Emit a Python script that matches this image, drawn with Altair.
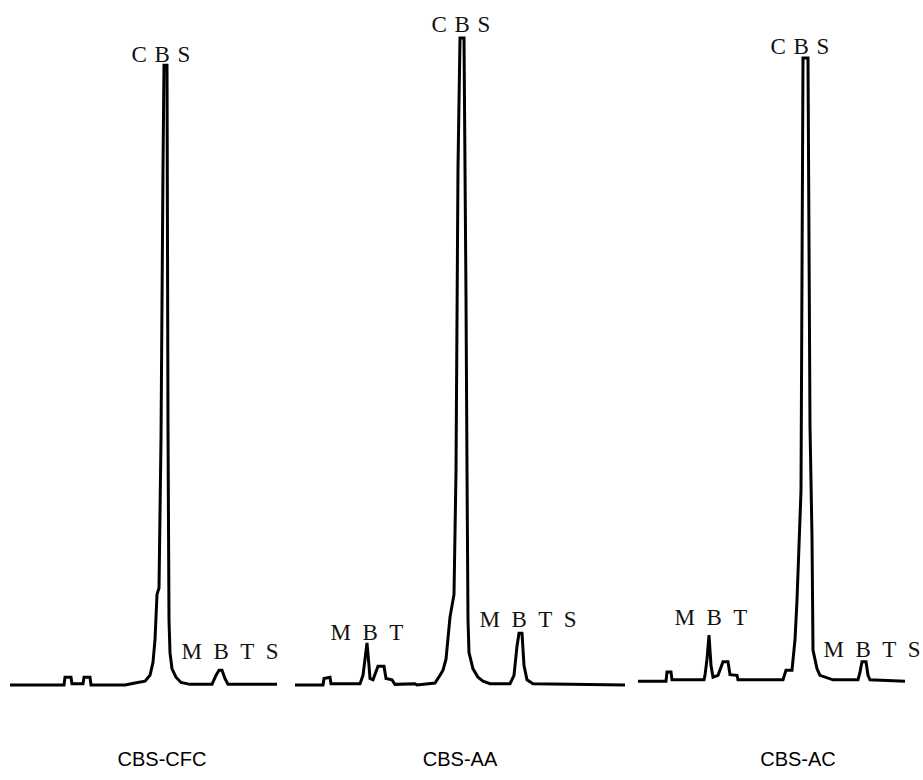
import altair as alt
import pandas as pd

# ---- chromatogram traces (retention time, relative intensity) ----
cfc_time = [1.0, 6.4, 6.5, 7.1, 7.2, 8.3, 8.4, 9.0, 9.1, 12.5, 13.5, 14.5, 15.0, 15.3, 15.5, 15.7,
            15.9, 16.1, 16.3, 16.4, 16.7, 16.8, 16.9, 17.0, 17.2, 17.6, 18.1, 19.0, 21.2, 21.6,
            21.9, 22.2, 22.5, 22.8, 27.7]
cfc_sig = [0, 0, 1.2, 1.2, 0.2, 0.2, 1.2, 1.2, 0, 0, 0.3, 0.6, 1.5, 3.5, 7.0, 14.0,
           15.0, 38.0, 80.0, 95.8, 95.8, 40.0, 10.0, 5.0, 2.5, 1.2, 0.4, 0.1, 0.1, 1.5,
           2.3, 2.3, 1.0, 0.1, 0.1]

aa_time = [0.5, 3.3, 3.4, 4.0, 4.1, 7.0, 7.3, 7.5, 7.7, 7.9, 8.0, 8.3, 8.8, 9.4, 9.6, 10.2,
           10.5, 12.5, 12.7, 14.5, 15.0, 15.3, 15.6, 16.0, 16.4, 16.6, 16.8, 17.0, 17.4, 17.6,
           17.7, 17.8, 17.9, 18.3, 18.8, 19.3, 20.0, 22.0, 22.4, 22.7, 22.9, 23.2, 23.4, 23.7,
           24.3, 33.5]
aa_sig = [0, 0, 1.0, 1.2, 0.2, 0.2, 1.5, 4.0, 6.5, 3.0, 1.0, 0.8, 2.9, 2.9, 1.0, 0.8,
          0.1, 0.2, 0, 0.3, 1.5, 2.3, 4.0, 10.5, 14.0, 33.0, 80.0, 100.0, 100.0, 60.0,
          33.0, 10.0, 5.0, 2.5, 1.2, 0.6, 0.2, 0.2, 1.5, 6.0, 8.0, 8.0, 3.0, 0.8,
          0.2, 0]

ac_time = [0.8, 3.6, 3.7, 4.1, 4.2, 7.4, 7.5, 7.7, 7.9, 8.1, 8.3, 8.8, 9.3, 9.8, 10.0, 10.7,
           10.8, 15.3, 15.6, 16.2, 16.5, 16.7, 17.1, 17.3, 17.8, 18.0, 18.2, 18.3, 18.7, 19.0,
           20.3, 22.8, 23.0, 23.2, 23.6, 23.8, 24.0, 27.5]
ac_sig = [0.6, 0.6, 2.0, 2.0, 0.8, 0.8, 1.5, 4.0, 7.7, 3.0, 1.2, 1.5, 3.6, 3.6, 1.6, 1.5,
          0.8, 0.8, 2.3, 2.3, 7.0, 13.1, 30.0, 96.9, 96.9, 40.0, 22.9, 5.4, 2.5, 1.5,
          0.8, 0.8, 2.0, 3.6, 3.6, 1.5, 0.8, 0.6]

# ---- peak labels ----
cfc_lab = ["CBS", "MBTS"]
cfc_lab_t = [16.1, 23.0]
cfc_lab_s = [97.4, 5.1]

aa_lab = ["CBS", "MBT", "MBTS"]
aa_lab_t = [17.1, 7.7, 23.8]
aa_lab_s = [102.0, 8.0, 10.0]

ac_lab = ["CBS", "MBT", "MBTS"]
ac_lab_t = [17.0, 8.1, 24.2]
ac_lab_s = [98.6, 10.4, 5.4]

captions = ["CBS-CFC", "CBS-AA", "CBS-AC"]
caption_t = [16.2, 17.0, 16.8]

Y_DOMAIN = [-14.68, 105.87]
H = 780


def spaced(label):
    gap = "\u2004" if label == "CBS" else "\u2002"
    return gap.join(label)


def panel(times, sig, labs, lab_t, lab_s, caption, cap_t, width, xmax):
    xs = alt.Scale(domain=[0, xmax], nice=False, zero=False)
    ys = alt.Scale(domain=Y_DOMAIN, nice=False, zero=False)
    trace = pd.DataFrame({"t": times, "s": sig})
    labels = pd.DataFrame({"name": [spaced(l) for l in labs], "t": lab_t, "s": lab_s})
    cap = pd.DataFrame({"name": [caption], "t": [cap_t]})

    line = alt.Chart(trace).mark_line(color="black", strokeWidth=3,
                                      strokeJoin="miter", clip=False).encode(
        x=alt.X("t:Q", scale=xs, axis=None),
        y=alt.Y("s:Q", scale=ys, axis=None),
        order="t:Q",
    )
    txt = alt.Chart(labels).mark_text(font="Liberation Serif", fontSize=23,
                                      color="#111", baseline="middle",
                                      align="center").encode(
        x=alt.X("t:Q", scale=xs, axis=None),
        y=alt.Y("s:Q", scale=ys, axis=None),
        text="name:N",
    )
    captxt = alt.Chart(cap).mark_text(font="Liberation Sans", fontSize=20,
                                      color="black", baseline="middle",
                                      align="center").encode(
        x=alt.X("t:Q", scale=xs, axis=None),
        y=alt.value(760),
        text="name:N",
    )
    return alt.layer(line, txt, captxt).properties(width=width, height=H)


p1 = panel(cfc_time, cfc_sig, cfc_lab, cfc_lab_t, cfc_lab_s, captions[0], caption_t[0], 290, 29.0)
p2 = panel(aa_time, aa_sig, aa_lab, aa_lab_t, aa_lab_s, captions[1], caption_t[1], 340, 34.0)
p3 = panel(ac_time, ac_sig, ac_lab, ac_lab_t, ac_lab_s, captions[2], caption_t[2], 293, 29.3)

chart = alt.hconcat(p1, p2, p3, spacing=0, bounds="flush").properties(
    padding=0, background="white"
).configure_view(stroke=None).configure_concat(spacing=0)

chart.save("out.html", embed_options={"renderer": "svg", "actions": False})
